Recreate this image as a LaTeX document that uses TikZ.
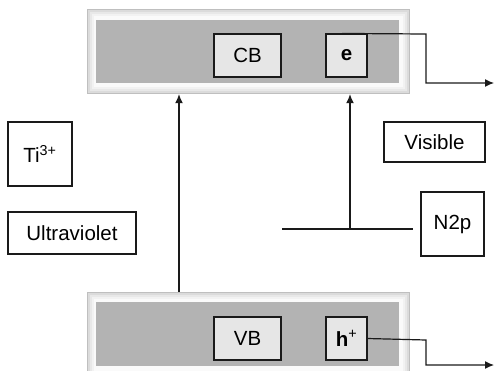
\documentclass[tikz,border=0pt]{standalone}
\usepackage{fontspec}
\setmainfont{Liberation Sans}
\usetikzlibrary{arrows.meta,calc}
\definecolor{bandgray}{HTML}{B3B3B3}
\definecolor{boxgray}{HTML}{E6E6E6}
\definecolor{linecol}{HTML}{1A1A1A}
\tikzset{
  lbl/.style={draw=linecol,line width=1.1pt,fill=white,inner sep=0pt,font=\fontsize{20.5}{24}\selectfont},
  inbox/.style={lbl,fill=boxgray},
  band/.style={fill=bandgray,draw=none,inner sep=0pt},
  conn/.style={draw=linecol,line width=1.2pt},
  arr/.style={conn,-{Latex[length=9pt,width=8pt]}}
}
\newcommand{\frameband}[4]{% x1 y1 x2 y2 outer frame with soft gradient
  \fill[gray!50] (#1,#2) rectangle (#3,#4);
  \fill[gray!28] ($(#1,#2)+(1,1)$) rectangle ($(#3,#4)+(-1,-1)$);
  \fill[gray!18] ($(#1,#2)+(3,3)$) rectangle ($(#3,#4)+(-3,-3)$);
  \fill[gray!10] ($(#1,#2)+(5,5)$) rectangle ($(#3,#4)+(-5,-5)$);
  \fill[gray!4] ($(#1,#2)+(7,7)$) rectangle ($(#3,#4)+(-7,-7)$);
}
\begin{document}
\begin{tikzpicture}[x=1pt,y=-1pt]
\useasboundingbox (0,0) rectangle (495,370);
% top band
\frameband{87}{9}{410}{94}
\node[band,minimum width=303pt,minimum height=63pt] (cbband) at (247.5,51.5) {};
\node[inner sep=0pt,minimum width=323pt,minimum height=85pt] (topouter) at (248.5,51.5) {};
\node[inbox,minimum width=67pt,minimum height=43pt] (cb) at (247.5,55.5) {CB};
\node[inbox,minimum width=41pt,minimum height=43pt] (e) at (346.5,55.5) {\textbf{e}};
% bottom band
\frameband{87}{292}{410}{378}
\node[band,minimum width=303pt,minimum height=64pt] (vbband) at (247.5,334) {};
\node[inner sep=0pt,minimum width=323pt,minimum height=86pt] (botouter) at (248.5,335) {};
\node[inbox,minimum width=67pt,minimum height=43pt] (vb) at (247.5,338.5) {VB};
\node[inbox,minimum width=41pt,minimum height=43pt] (h) at (346.5,338.5) {\textbf{h}\textsuperscript{+}};
% side labels
\node[lbl,minimum width=64pt,minimum height=64pt] (ti) at (40,154) {Ti\textsuperscript{3+}};
\node[lbl,minimum width=128pt,minimum height=42pt] (uv) at (72,233) {Ultraviolet};
\node[lbl,minimum width=101pt,minimum height=40pt] (vis) at (434.5,142) {Visible};
\node[lbl,minimum width=63pt,minimum height=64pt] (n2p) at (452.5,224) {N2p};
% N2p level line
\coordinate (nl) at (282,229);
\coordinate (nr) at (413,229);
\coordinate (nm) at (350,229);
\draw[conn] (nl) -- (nr);
% excitation arrows
\draw[arr] (botouter.north -| 179,0) -- (topouter.south -| 179,0);
\draw[arr] (nm) -- (topouter.south -| nm);
% outgoing arrows
\coordinate (eend) at (494,83);
\coordinate (hend) at (494,365);
\draw[arr] ([xshift=-4.5pt]e.north) -- (426,34) -- (426,83) -- (eend);
\draw[arr] (h.east) -- (426,340) -- (426,365) -- (hend);
\end{tikzpicture}
\end{document}
